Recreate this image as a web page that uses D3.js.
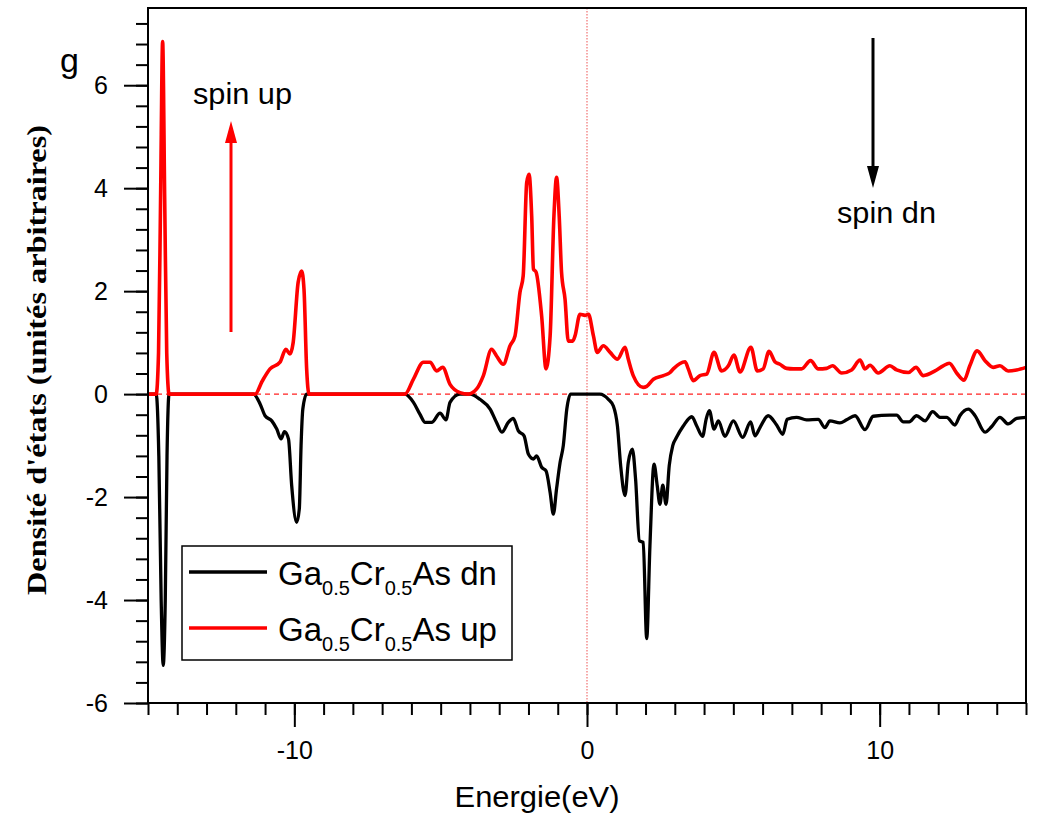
<!DOCTYPE html>
<html>
<head>
<meta charset="utf-8">
<script src="https://cdn.jsdelivr.net/npm/d3@7"></script>
<style>
    body { margin: 0; background: #fff; }
    svg { display: block; }
    .tick-label { font-family: "Liberation Sans", Arial, sans-serif; font-size: 25px; fill: #000; }
</style>
</head>
<body>
<div id="chart"></div>
<script>
// Energy (eV) and density of states, spin up
const energyUp = [-15, -14.72, -14.64, -14.57, -14.5, -14.43, -14.36, -14.28, -11.34, -11.1, -10.83, -10.49, -10.29, -10.15, -10.04, -9.87, -9.75, -9.67, -9.58, -9.5,
    -6.22, -5.93, -5.59, -5.36, -5.14, -4.93, -4.68, -4.34, -4.06, -3.77, -3.54, -3.26, -3.09, -2.86, -2.63, -2.46, -2.29, -2.18, -2.06, -1.98, -1.89, -1.83, -1.74,
    -1.55, -1.4, -1.26, -1.13, -1.04, -0.95, -0.87, -0.75, -0.64, -0.49, -0.41, -0.24, -0.07, 0.05, 0.22, 0.35, 0.56, 0.79, 1.04, 1.3, 1.41, 1.58, 1.92, 2.04,
    2.27, 2.61, 2.84, 2.95, 3.35, 3.46, 3.63, 3.86, 4.09, 4.34, 4.6, 4.83, 5.02, 5.23, 5.6, 5.82, 6.02, 6.22, 6.42, 6.59, 6.82, 7.05, 7.33, 7.64, 7.9, 8.19,
    8.39, 8.7, 9.04, 9.33, 9.5, 9.67, 9.95, 10.35, 10.58, 10.98, 11.24, 11.49, 11.89, 12.17, 12.38, 12.63, 12.88, 13.08, 13.33, 13.6, 13.88, 14.11, 14.39, 14.68, 15];
const dosUp = [0, 0, 0.8, 3.8, 6.85, 3.8, 0.8, 0, 0, 0.25, 0.49, 0.62, 0.87, 0.78, 1.0, 2.17, 2.39, 2.04, 0.5, 0,
    0, 0.29, 0.62, 0.62, 0.45, 0.52, 0.19, 0.03, 0, 0.1, 0.36, 0.87, 0.74, 0.58, 0.94, 1.13, 1.98, 2.3, 4.11, 4.27, 3.46, 2.43, 2.37,
    1.52, 0.49, 1.13, 3.46, 4.21, 3.46, 2.37, 1.84, 1.03, 1.03, 1.13, 1.55, 1.53, 1.55, 1.13, 0.81, 0.94, 0.81, 0.68, 0.91, 0.68, 0.36, 0.13, 0.15,
    0.29, 0.36, 0.42, 0.49, 0.63, 0.49, 0.26, 0.36, 0.39, 0.81, 0.45, 0.55, 0.76, 0.43, 0.91, 0.45, 0.49, 0.83, 0.63, 0.58, 0.5, 0.49, 0.49, 0.65, 0.49, 0.5,
    0.55, 0.41, 0.47, 0.66, 0.49, 0.56, 0.41, 0.55, 0.47, 0.42, 0.52, 0.36, 0.45, 0.55, 0.6, 0.41, 0.27, 0.55, 0.84, 0.65, 0.52, 0.55, 0.45, 0.47, 0.52];

// Energy (eV) and density of states, spin down (plotted negative)
const energyDn = [-15, -14.72, -14.63, -14.55, -14.48, -14.41, -14.35, -14.28, -11.4, -11.17, -11.0, -10.77, -10.6, -10.45, -10.34, -10.2, -10.09, -9.92, -9.83, -9.77, -9.71, -9.58,
    -6.22, -5.93, -5.71, -5.53, -5.31, -5.02, -4.82, -4.68, -4.34, -4.0, -3.66, -3.31, -3.09, -2.91, -2.69, -2.52, -2.35, -2.15, -2.0, -1.83, -1.72, -1.55, -1.4,
    -1.26, -1.15, -1.04, -0.92, -0.81, -0.69, -0.56, 0.44, 0.73, 0.9, 1.04, 1.15, 1.3, 1.41, 1.55, 1.66, 1.79, 1.92, 2.04, 2.15, 2.29, 2.4, 2.49, 2.59, 2.7, 2.81,
    2.93, 3.06, 3.29, 3.58, 3.75, 3.95, 4.07, 4.18, 4.34, 4.49, 4.71, 5.0, 5.32, 5.59, 5.74, 5.91, 6.19, 6.48, 6.69, 6.84, 7.16, 7.5, 7.9, 8.13, 8.3, 8.64, 8.87,
    9.16, 9.5, 9.78, 10.35, 10.58, 10.81, 11.01, 11.26, 11.55, 11.81, 12.06, 12.29, 12.57, 12.74, 13.03, 13.26, 13.6, 13.83, 14.11, 14.39, 14.68, 15];
const dosDn = [0, 0, -1.2, -4.0, -5.27, -4.0, -1.2, 0, 0, -0.19, -0.42, -0.52, -0.68, -0.87, -0.73, -0.87, -1.78, -2.49, -2.23, -1.0, -0.29, 0,
    0, -0.16, -0.39, -0.55, -0.55, -0.37, -0.5, -0.16, 0, 0, -0.1, -0.29, -0.55, -0.74, -0.55, -0.47, -0.71, -0.81, -1.17, -1.26, -1.2, -1.42, -1.49,
    -1.91, -2.33, -1.84, -1.33, -1.0, -0.29, 0, 0, -0.1, -0.23, -0.62, -1.39, -1.97, -1.33, -1.07, -1.65, -2.85, -2.88, -4.75, -2.95, -1.36, -1.78, -2.14, -1.77, -2.14, -1.39,
    -1.0, -0.84, -0.62, -0.44, -0.62, -0.82, -0.49, -0.32, -0.68, -0.52, -0.82, -0.52, -0.84, -0.54, -0.81, -0.65, -0.42, -0.6, -0.78, -0.49, -0.45, -0.5, -0.49, -0.65, -0.52, -0.56, -0.5,
    -0.42, -0.69, -0.43, -0.41, -0.41, -0.54, -0.54, -0.42, -0.52, -0.34, -0.45, -0.45, -0.6, -0.42, -0.29, -0.42, -0.74, -0.63, -0.45, -0.58, -0.47, -0.45];

const xTicks = [-10, 0, 10];
const yTicks = [-6, -4, -2, 0, 2, 4, 6];
const legendNames = ['dn', 'up'];
const legendColors = ['#000', '#ff0000'];

const width = 1057, height = 814;
const margin = { left: 148, top: 8, right: 31, bottom: 111 };
const innerW = width - margin.left - margin.right;
const innerH = height - margin.top - margin.bottom;

const svg = d3.select('#chart').append('svg')
    .attr('width', width)
    .attr('height', height);

const x = d3.scaleLinear().domain([-15, 15]).range([margin.left, margin.left + innerW]);
const y = d3.scaleLinear().domain([-6, 7.5]).range([margin.top + innerH, margin.top]);

// Reference lines at E = 0 and DOS = 0
svg.append('line')
    .attr('x1', x(0)).attr('x2', x(0))
    .attr('y1', y(7.5)).attr('y2', y(-6))
    .attr('stroke', '#f07070').attr('stroke-width', 1.2)
    .attr('stroke-dasharray', '1.5,1.5');
svg.append('line')
    .attr('x1', x(-15)).attr('x2', x(15))
    .attr('y1', y(0)).attr('y2', y(0))
    .attr('stroke', '#ff2020').attr('stroke-width', 1.3)
    .attr('stroke-dasharray', '5,4');

// Curves
const line = d3.line()
    .x(d => x(d[0]))
    .y(d => y(d[1]))
    .curve(d3.curveMonotoneX);

const dnData = energyDn.map((e, i) => [e, dosDn[i]]);
const upData = energyUp.map((e, i) => [e, dosUp[i]]);

svg.append('path').datum(dnData)
    .attr('d', line)
    .attr('fill', 'none').attr('stroke', '#000').attr('stroke-width', 3.3)
    .attr('stroke-linejoin', 'round');
svg.append('path').datum(upData)
    .attr('d', line)
    .attr('fill', 'none').attr('stroke', '#ff0000').attr('stroke-width', 3.6)
    .attr('stroke-linejoin', 'round');

// Frame
svg.append('rect')
    .attr('x', margin.left).attr('y', margin.top)
    .attr('width', innerW).attr('height', innerH)
    .attr('fill', 'none').attr('stroke', '#000').attr('stroke-width', 2);

// Bottom axis: major + minor ticks pointing out
const xAxisG = svg.append('g').attr('transform', `translate(0,${y(-6)})`);
xAxisG.call(d3.axisBottom(x).tickValues(d3.range(-15, 15.01, 1)).tickSize(12).tickFormat(''));
xAxisG.call(g => g.select('.domain').remove());
svg.append('g').attr('transform', `translate(0,${y(-6)})`)
    .call(d3.axisBottom(x).tickValues(xTicks).tickSize(24).tickPadding(14).tickFormat(d => String(d)))
    .call(g => g.select('.domain').remove())
    .selectAll('text').attr('class', 'tick-label').attr('font-size', null).attr('font-family', null);

// Left axis
const yAxisG = svg.append('g').attr('transform', `translate(${x(-15)},0)`);
yAxisG.call(d3.axisLeft(y).tickValues(d3.range(-6, 7.3, 0.4)).tickSize(12).tickFormat(''));
yAxisG.call(g => g.select('.domain').remove());
svg.append('g').attr('transform', `translate(${x(-15)},0)`)
    .call(d3.axisLeft(y).tickValues(yTicks).tickSize(24).tickPadding(16).tickFormat(d => String(d)))
    .call(g => g.select('.domain').remove())
    .selectAll('text').attr('class', 'tick-label').attr('font-size', null).attr('font-family', null);

svg.selectAll('.tick line').attr('stroke', '#000').attr('stroke-width', 2);

// Axis titles
svg.append('text')
    .attr('x', 537).attr('y', 807)
    .attr('text-anchor', 'middle')
    .attr('textLength', 165)
    .attr('lengthAdjust', 'spacingAndGlyphs')
    .style('font-family', '"Liberation Sans", Arial, sans-serif')
    .style('font-size', '30px')
    .text('Energie(eV)');

svg.append('text')
    .attr('transform', 'translate(46,360) rotate(-90)')
    .attr('text-anchor', 'middle')
    .attr('textLength', 470)
    .attr('lengthAdjust', 'spacingAndGlyphs')
    .style('font-family', '"Liberation Serif", "Times New Roman", serif')
    .style('font-weight', 'bold')
    .style('font-size', '28px')
    .text("Densité d'états (unités arbitraires)");

svg.append('text')
    .attr('x', 60).attr('y', 72)
    .style('font-family', '"Liberation Sans", Arial, sans-serif')
    .style('font-size', '34px')
    .text('g');

// Spin annotations with arrows
svg.append('line')
    .attr('x1', 231).attr('y1', 332).attr('x2', 231).attr('y2', 140)
    .attr('stroke', '#ff0000').attr('stroke-width', 3);
svg.append('path')
    .attr('d', 'M225,143 L231,121 L237,143 Z').attr('fill', '#ff0000');
svg.append('text')
    .attr('x', 193).attr('y', 104)
    .attr('textLength', 99)
    .attr('lengthAdjust', 'spacingAndGlyphs')
    .style('font-family', '"Liberation Sans", Arial, sans-serif')
    .style('font-size', '29px')
    .text('spin up');

svg.append('line')
    .attr('x1', 873).attr('y1', 38).attr('x2', 873).attr('y2', 170)
    .attr('stroke', '#000').attr('stroke-width', 3);
svg.append('path')
    .attr('d', 'M867,166 L873,188 L879,166 Z').attr('fill', '#000');
svg.append('text')
    .attr('x', 837).attr('y', 223)
    .attr('textLength', 99)
    .attr('lengthAdjust', 'spacingAndGlyphs')
    .style('font-family', '"Liberation Sans", Arial, sans-serif')
    .style('font-size', '29px')
    .text('spin dn');

// Legend
const legend = svg.append('g');
legend.append('rect')
    .attr('x', 182).attr('y', 546)
    .attr('width', 330).attr('height', 114)
    .attr('fill', '#fff').attr('stroke', '#000').attr('stroke-width', 1.5);

legendNames.forEach((name, i) => {
    const ly = 572 + i * 56;
    legend.append('line')
        .attr('x1', 189).attr('x2', 267)
        .attr('y1', ly).attr('y2', ly)
        .attr('stroke', legendColors[i]).attr('stroke-width', 3.3);
    const t = legend.append('text')
        .attr('x', 278).attr('y', ly + 13)
        .style('font-family', '"Liberation Sans", Arial, sans-serif')
        .style('font-size', '33px');
    t.append('tspan').text('Ga');
    t.append('tspan').attr('dy', 10).style('font-size', '20px').text('0.5');
    t.append('tspan').attr('dy', -10).text('Cr');
    t.append('tspan').attr('dy', 10).style('font-size', '20px').text('0.5');
    t.append('tspan').attr('dy', -10).text('As ' + name);
});
</script>
</body>
</html>
